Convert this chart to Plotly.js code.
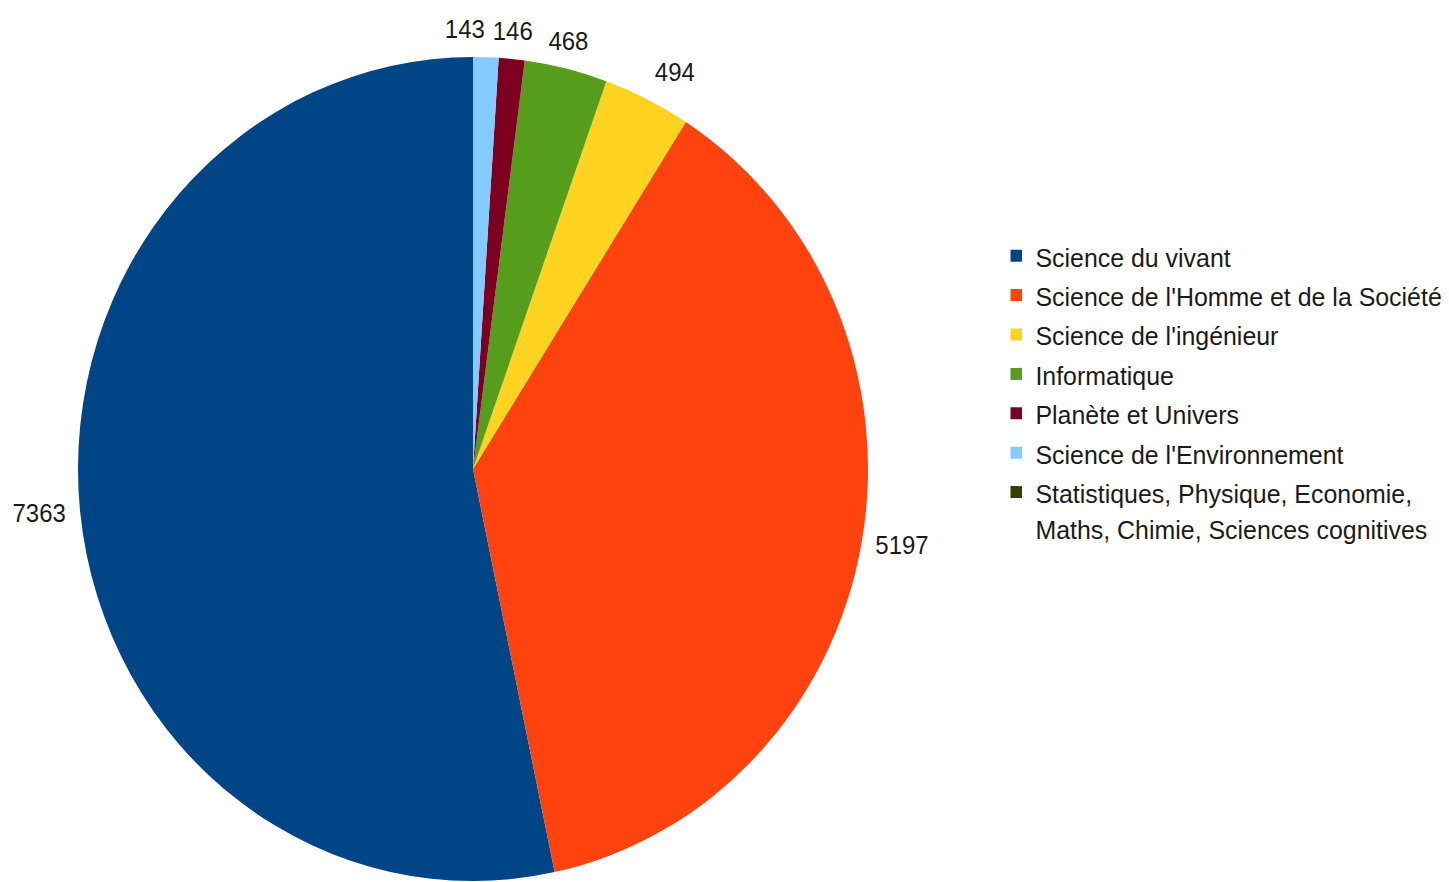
<!DOCTYPE html>
<html>
<head>
<meta charset="utf-8">
<script src="https://cdn.plot.ly/plotly-3.0.1.min.js"></script>
<style>
html,body{margin:0;padding:0;background:#fff;overflow:hidden;width:1449px;height:882px;}
#chart{width:1511px;height:882px;transform-origin:0 0;}
</style>
</head>
<body>
<div id="chart"></div>
<script>
const labels = [
  "Science du vivant",
  "Science de l'Homme et de la Société",
  "Science de l'ingénieur",
  "Informatique",
  "Planète et Univers",
  "Science de l'Environnement",
  "Statistiques, Physique, Economie,<br>Maths, Chimie, Sciences cognitives"
];
const values = [7363, 5197, 494, 468, 146, 143, 0];
const colors = ["#004586", "#ff420e", "#ffd320", "#579d1c", "#7e0021", "#83caff", "#314004"];

// The reference is slightly squeezed horizontally: draw wider, then scale X.
const SX = 395 / 412;
const W = 1511, H = 882;
const cx = 473 / SX, cy = 469, r = 412;
const FONT = 'Liberation Sans, Arial, sans-serif';
const LABEL_SIZE = 25;
const total = values.reduce((a, b) => a + b, 0);

document.getElementById('chart').style.transform = 'scaleX(' + SX + ')';

const trace = {
  type: 'pie',
  labels: labels.map(t => '<span style="font-size:26px">' + t + '</span>'),
  values: values,
  sort: false,
  direction: 'counterclockwise',
  // first slice starts at 12 o'clock and runs counterclockwise
  rotation: -360 * values[0] / total,
  marker: {colors: colors, line: {width: 0}},
  textinfo: 'none',
  hoverinfo: 'value',
  domain: {x: [(cx - r) / W, (cx + r) / W], y: [Math.max(0, (H - cy - r) / H), Math.min(1, (H - cy + r) / H)]},
  automargin: false
};

// Value labels placed just outside each slice, at its mid-angle (derived from the values).
const f = 1.03;
const boxes = [];
let cum = 0;
values.forEach((v, i) => {
  const a0 = cum, a1 = cum + v;
  cum = a1;
  if (v <= 0) return;
  const ccwMid = 360 * (a0 + a1) / 2 / total;
  const th = (360 - ccwMid) * Math.PI / 180; // clockwise from 12 o'clock
  const s = Math.sin(th), c = Math.cos(th);
  const px = cx + r * f * s, py = cy - r * f * c;
  const xa = s > 0.3 ? 'left' : (s < -0.3 ? 'right' : 'center');
  const ya = c > 0.3 ? 'bottom' : (c < -0.3 ? 'top' : 'middle');
  const w = String(v).length * 0.556 * LABEL_SIZE + 2, h = LABEL_SIZE * 1.25;
  const x0 = xa === 'left' ? px : (xa === 'right' ? px - w : px - w / 2);
  const y0 = ya === 'top' ? py : (ya === 'bottom' ? py - h : py - h / 2);
  boxes.push({v, th, px, py, xa, ya, x0, y0, w, h});
});
// resolve overlaps: the label nearer to 12 o'clock moves left
boxes.sort((a, b) => b.th - a.th);
for (let k = 0; k < boxes.length; k++) {
  for (let j = 0; j < k; j++) {
    const A = boxes[k], B = boxes[j];
    const ox = Math.min(A.x0 + A.w, B.x0 + B.w) - Math.max(A.x0, B.x0);
    const oy = Math.min(A.y0 + A.h, B.y0 + B.h) - Math.max(A.y0, B.y0);
    if (ox > 0 && oy > 0) {
      const shift = (A.x0 + A.w) - B.x0 + 6;
      A.x0 -= shift; A.px -= shift;
    }
  }
}
const annotations = boxes.map(b => ({
  xref: 'paper', yref: 'paper',
  x: b.px / W, y: 1 - b.py / H,
  xanchor: b.xa, yanchor: b.ya,
  text: String(b.v), showarrow: false,
  font: {family: FONT, size: LABEL_SIZE, color: '#1a1a1a'}
}));

const layout = {
  width: W, height: H,
  margin: {l: 0, r: 0, t: 0, b: 0},
  paper_bgcolor: '#ffffff',
  showlegend: true,
  annotations: annotations,
  legend: {
    x: 1040 / W, xanchor: 'left',
    y: (H - 231) / H, yanchor: 'top',
    valign: 'top',
    font: {family: FONT, size: 28, color: '#1a1a1a'},
    itemwidth: 30,
    traceorder: 'normal'
  }
};

Plotly.newPlot('chart', [trace], layout, {staticPlot: true});
</script>
</body>
</html>
